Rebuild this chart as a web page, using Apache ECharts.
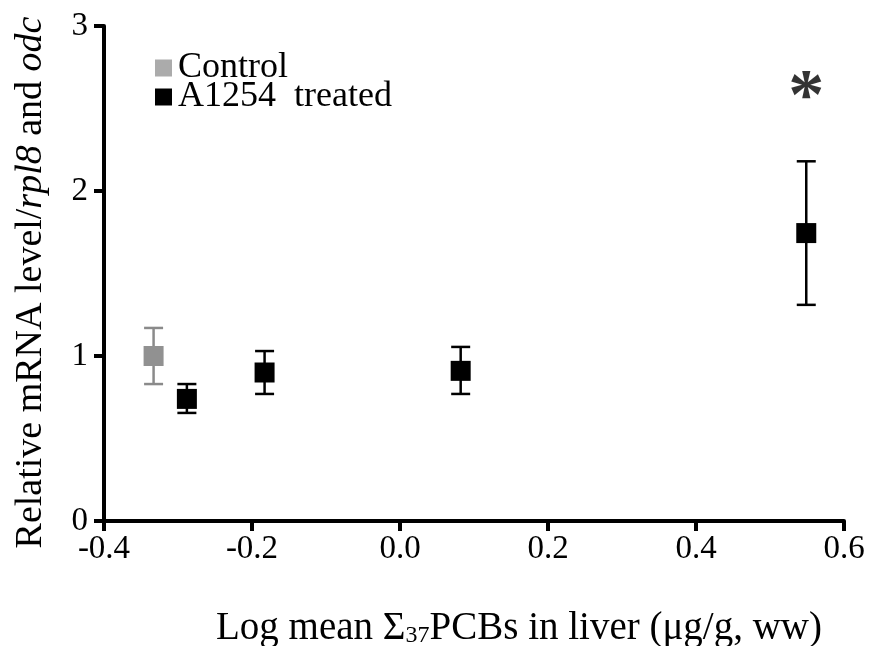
<!DOCTYPE html>
<html>
<head>
<meta charset="utf-8">
<script src="https://cdn.jsdelivr.net/npm/echarts@6/dist/echarts.min.js"></script>
<style>
  html, body { margin: 0; padding: 0; background: #fff; }
  #chart { width: 870px; height: 646px; }
</style>
</head>
<body>
<div id="chart"></div>
<script>
// data
var xTicks = [-0.4, -0.2, 0.0, 0.2, 0.4, 0.6];
var yTicks = [0, 1, 2, 3];

var controlX = [-0.333];
var controlY = [1.0];
var controlLow = [0.83];
var controlHigh = [1.17];

var treatedX = [-0.288, -0.183, 0.082, 0.549];
var treatedY = [0.74, 0.90, 0.91, 1.745];
var treatedLow = [0.655, 0.77, 0.77, 1.31];
var treatedHigh = [0.83, 1.03, 1.055, 2.18];

// significance mark above the last point
var starX = [0.549];
var starY = [2.64];

var FONT = 'Liberation Serif';

function pairs(xs, ys) {
    return xs.map(function (x, i) { return [x, ys[i]]; });
}
function bars(xs, lo, hi) {
    return xs.map(function (x, i) { return [x, lo[i], hi[i]]; });
}

function errorBar(color) {
    return function (params, api) {
        var top = api.coord([api.value(0), api.value(2)]);
        var bot = api.coord([api.value(0), api.value(1)]);
        var half = 9.5;
        var style = { stroke: color, lineWidth: 2.5 };
        return {
            type: 'group',
            children: [
                { type: 'line', shape: { x1: top[0], y1: top[1], x2: bot[0], y2: bot[1] }, style: style },
                { type: 'line', shape: { x1: top[0] - half, y1: top[1], x2: top[0] + half, y2: top[1] }, style: style },
                { type: 'line', shape: { x1: bot[0] - half, y1: bot[1], x2: bot[0] + half, y2: bot[1] }, style: style }
            ]
        };
    };
}

var chart = echarts.init(document.getElementById('chart'));

var option = {
    animation: false,
    backgroundColor: '#fff',
    textStyle: { fontFamily: FONT },
    grid: { left: 104, right: 26, top: 26, bottom: 125, outerBoundsMode: 'none' },
    legend: {
        data: [
            { name: 'Control', itemStyle: { color: '#ababab' } },
            { name: 'A1254  treated', itemStyle: { color: '#000' } }
        ],
        orient: 'vertical',
        left: 150,
        top: 41,
        icon: 'rect',
        itemWidth: 17,
        itemHeight: 17,
        itemGap: -15,
        textStyle: {
            fontFamily: FONT, fontSize: 36, lineHeight: 36, color: '#000',
            padding: [8, 0, 0, 1]
        }
    },
    xAxis: {
        type: 'value',
        min: -0.4,
        max: 0.6,
        interval: 0.2,
        name: '{n|Log mean Σ}{s|37}{n|PCBs in liver (μg/g, ww)}',
        nameLocation: 'middle',
        nameGap: 88,
        nameTextStyle: {
            padding: [0, 0, 0, 90],
            rich: {
                n: { fontFamily: FONT, fontSize: 39, color: '#000' },
                s: { fontFamily: FONT, fontSize: 24, color: '#000', padding: [14, 0, 0, 0] }
            }
        },
        axisLine: { onZero: false, lineStyle: { color: '#000', width: 4 } },
        axisTick: { length: 10, lineStyle: { color: '#000', width: 4 } },
        axisLabel: {
            margin: 12,
            fontFamily: FONT,
            fontSize: 33,
            color: '#000',
            formatter: function (v) { return v.toFixed(1); }
        },
        splitLine: { show: false }
    },
    yAxis: {
        type: 'value',
        min: 0,
        max: 3,
        interval: 1,
        name: '{n|Relative mRNA level/}{i|rpl8}{n| and }{i|odc}',
        nameLocation: 'middle',
        nameRotate: 90,
        nameGap: 54,
        nameTextStyle: {
            padding: [0, 18, 0, 0],
            rich: {
                n: { fontFamily: FONT, fontSize: 38, color: '#000' },
                i: { fontFamily: FONT, fontSize: 38, color: '#000', fontStyle: 'italic' }
            }
        },
        axisLine: { onZero: false, lineStyle: { color: '#000', width: 4 } },
        axisTick: { length: 10, lineStyle: { color: '#000', width: 4 } },
        axisLabel: { margin: 16, fontFamily: FONT, fontSize: 33, color: '#000' },
        splitLine: { show: false }
    },
    series: [
        {
            name: 'controlErr',
            type: 'custom',
            renderItem: errorBar('#8a8a8a'),
            data: bars(controlX, controlLow, controlHigh),
            encode: { x: 0, y: [1, 2] },
            z: 2
        },
        {
            name: 'treatedErr',
            type: 'custom',
            renderItem: errorBar('#000'),
            data: bars(treatedX, treatedLow, treatedHigh),
            encode: { x: 0, y: [1, 2] },
            z: 2
        },
        {
            name: 'Control',
            type: 'scatter',
            symbol: 'rect',
            symbolSize: 20,
            itemStyle: { color: '#919191', opacity: 1 },
            data: pairs(controlX, controlY),
            z: 3
        },
        {
            name: 'A1254  treated',
            type: 'scatter',
            symbol: 'rect',
            symbolSize: 20,
            itemStyle: { color: '#000', opacity: 1 },
            data: pairs(treatedX, treatedY),
            z: 3
        },
        {
            name: 'star',
            type: 'scatter',
            symbolSize: 0,
            silent: true,
            data: pairs(starX, starY),
            label: {
                show: true,
                position: 'inside',
                formatter: '*',
                fontFamily: FONT,
                fontWeight: 'bold',
                fontSize: 72,
                color: '#000',
                offset: [0, 14]
            }
        }
    ]
};

chart.setOption(option);
</script>
</body>
</html>
